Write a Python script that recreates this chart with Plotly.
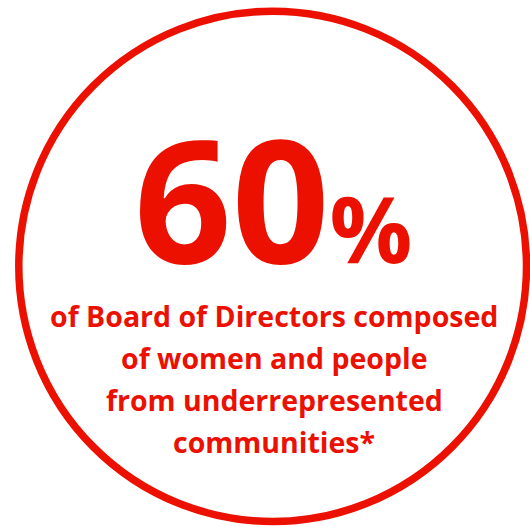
import plotly.graph_objects as go

# Data
value = 60
unit = "%"
label_lines = [
    "of Board of Directors composed",
    "of women and people",
    "from underrepresented",
    "communities*",
]

RED = "#EB1000"
W, H = 530, 526
FONT = "Open Sans"

fig = go.Figure()

# circle outline
fig.add_shape(type="circle", xref="x", yref="y",
              x0=18.8, y0=11.2, x1=526.5, y1=521.5,
              line=dict(color=RED, width=7.5), fillcolor="rgba(0,0,0,0)")

# big number
fig.add_annotation(
    x=273, y=196, xref="x", yref="y", xanchor="center", yanchor="middle",
    text=f"<b>{value}<span style='font-size:92px'>{unit}</span></b>",
    showarrow=False, font=dict(family=FONT, size=171, color=RED),
)

line_y0 = 316
line_gap = 42
for i, line in enumerate(label_lines):
    fig.add_annotation(
        x=274, y=line_y0 + i * line_gap, xref="x", yref="y",
        xanchor="center", yanchor="middle",
        text=f"<b>{line}</b>", showarrow=False,
        font=dict(family=FONT, size=28.5, color=RED),
    )

fig.update_xaxes(range=[0, W], visible=False, fixedrange=True)
fig.update_yaxes(range=[H, 0], visible=False, fixedrange=True)
fig.update_layout(
    width=W, height=H, margin=dict(l=0, r=0, t=0, b=0),
    paper_bgcolor="white", plot_bgcolor="white", showlegend=False,
)
fig.write_html("out.html", config={"displayModeBar": False},
               post_script="document.body.style.margin='0';")
